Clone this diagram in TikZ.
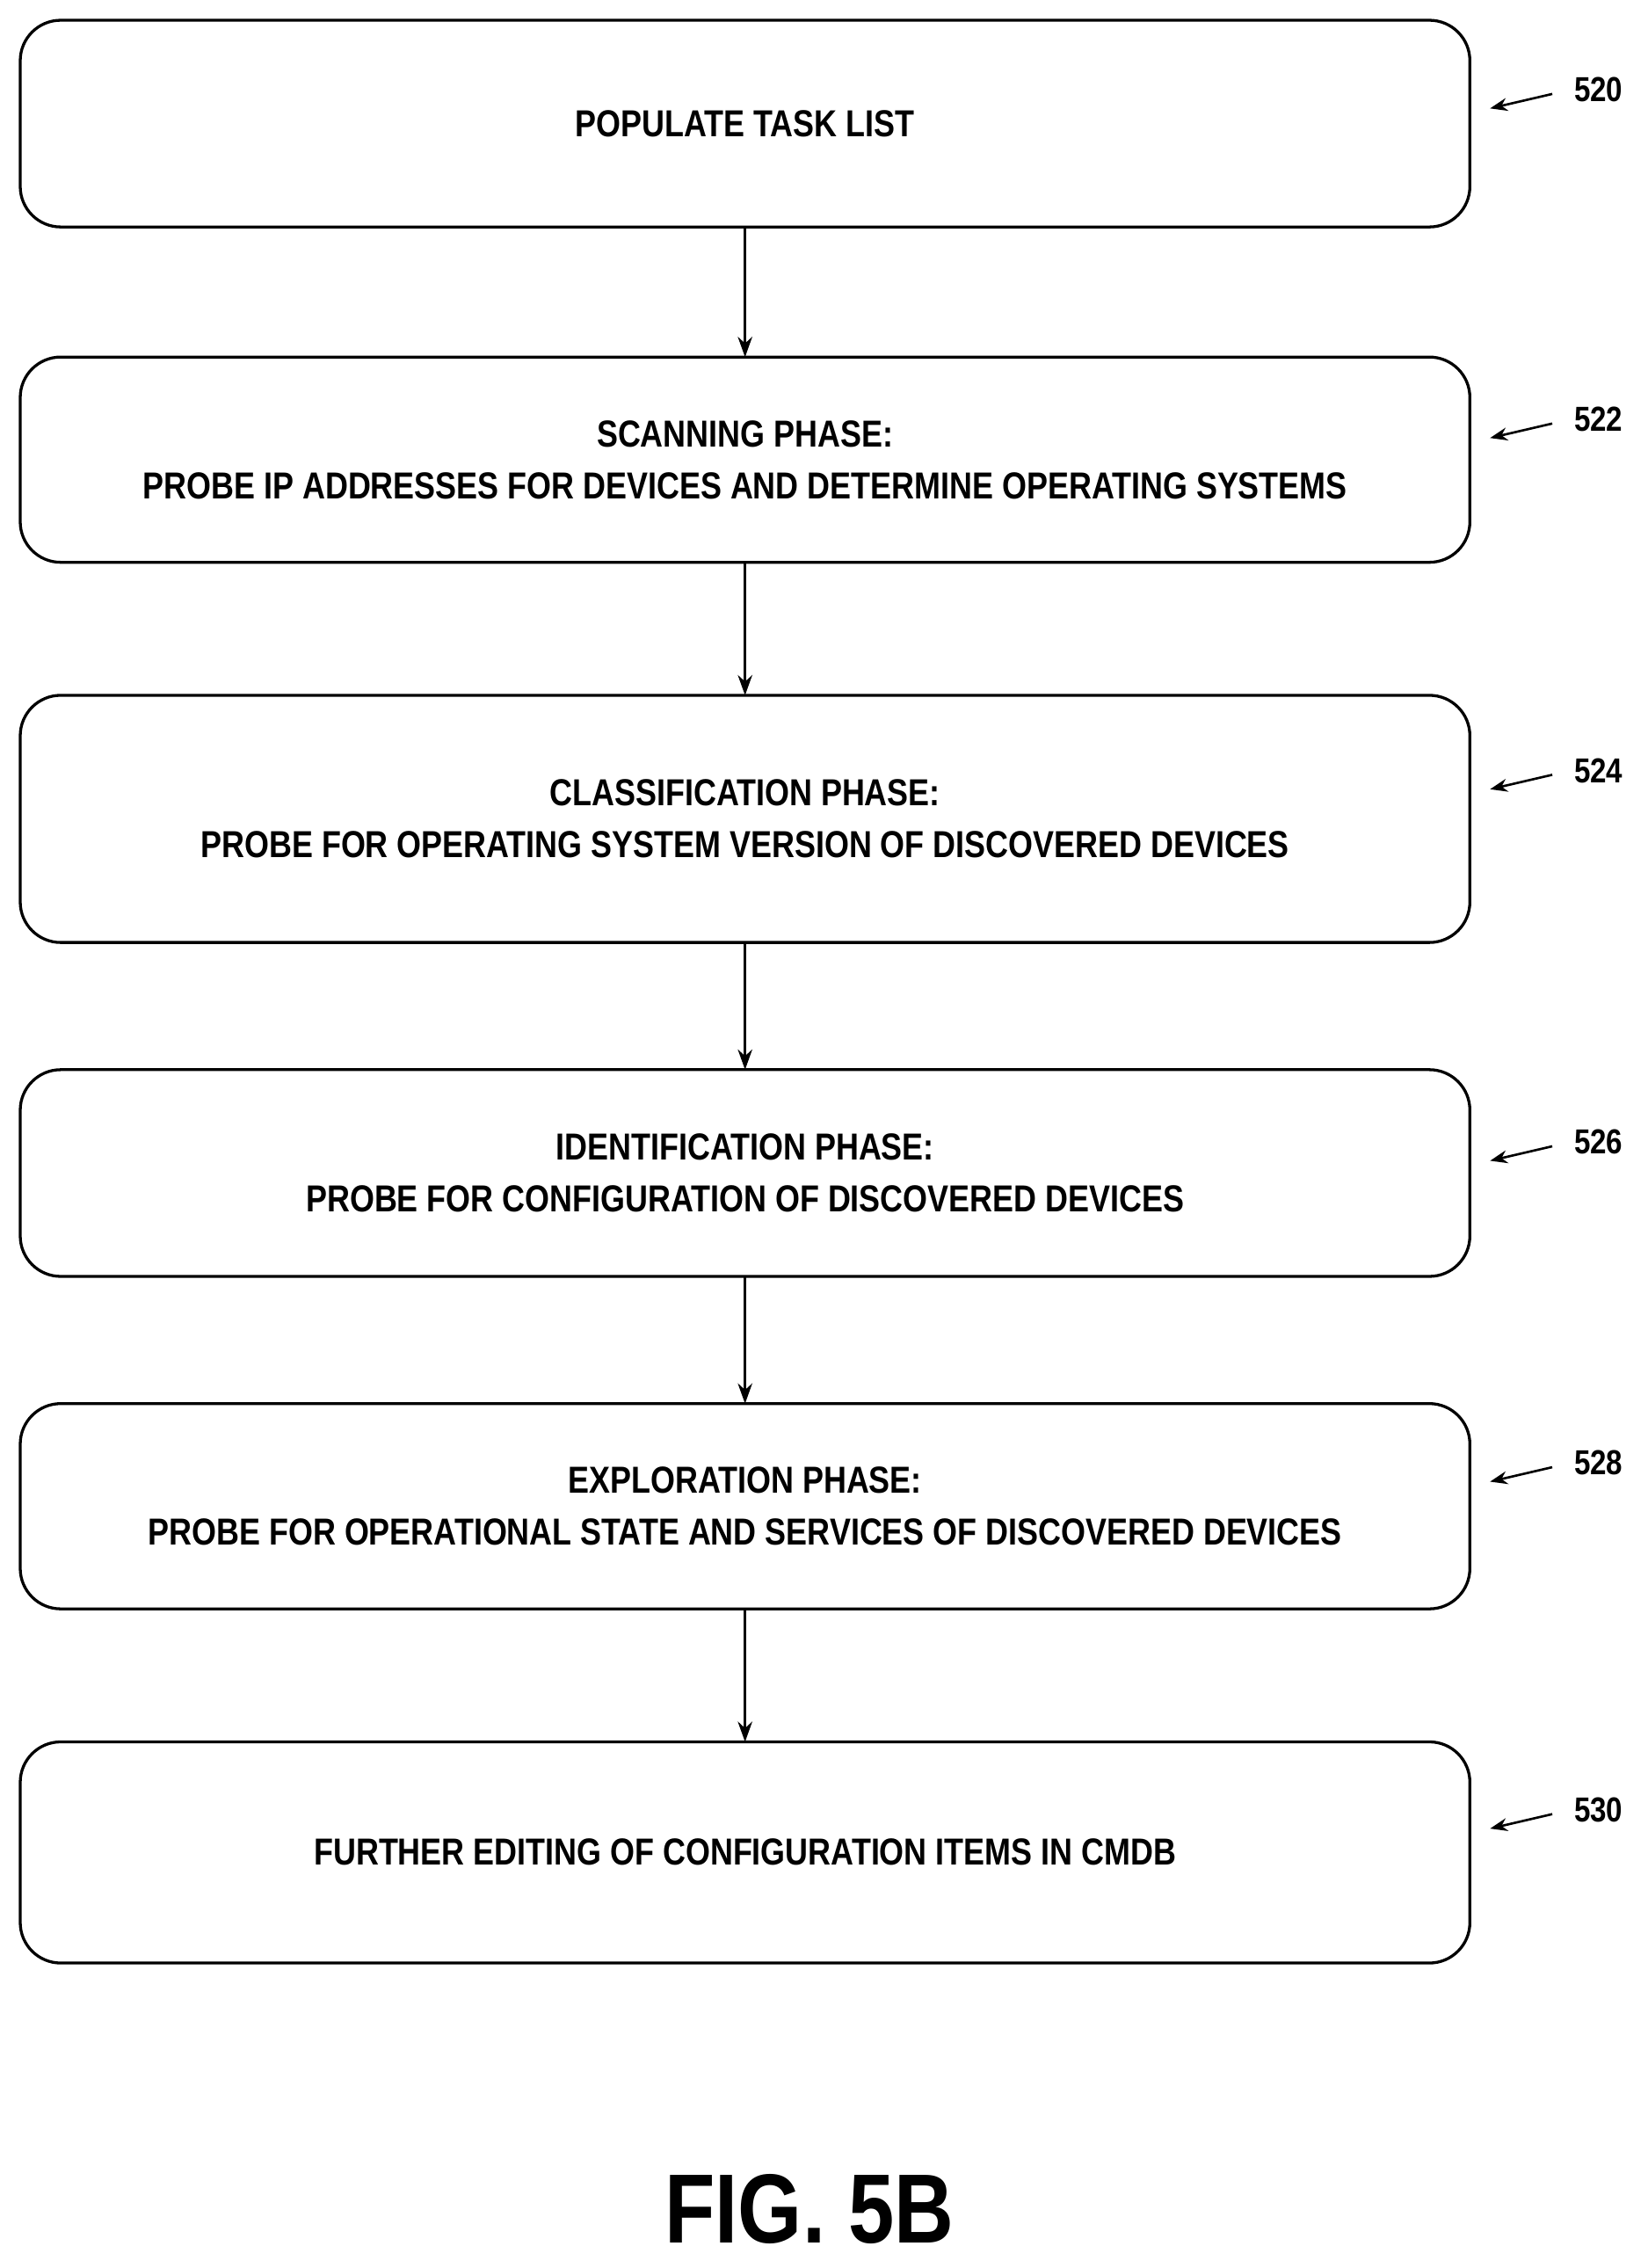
\documentclass[tikz,border=0pt]{standalone}
\usepackage{fontspec}
\setmainfont{Liberation Sans}[FakeStretch=0.84]
\usetikzlibrary{arrows.meta}
\begin{document}
\begin{tikzpicture}[x=1pt,y=-1pt,
  box/.style={draw,line width=2pt,rounded corners=28pt,font=\bfseries\fontsize{26}{36}\selectfont,align=center},
  conn/.style={line width=1.6pt,-{Stealth[length=14pt,width=10pt]}},
  lbl/.style={font=\bfseries\fontsize{24}{28}\selectfont},
  larr/.style={line width=1.6pt,-{Stealth[length=12pt,width=9pt]}}]
\useasboundingbox (0,0) rectangle (1140,1569);
\def\bx#1#2#3#4{\draw[box] (14,#2) rectangle (1017,#3); \node[box,draw=none] (#1) at (515.5,{(#2+#3)/2}) {#4};
  \coordinate (#1t) at (515.5,#2); \coordinate (#1b) at (515.5,#3);}
\bx{a}{14}{157}{POPULATE TASK LIST}
\bx{b}{247}{389}{SCANNING PHASE:\\PROBE IP ADDRESSES FOR DEVICES AND DETERMINE OPERATING SYSTEMS}
\bx{c}{481}{652}{CLASSIFICATION PHASE:\\PROBE FOR OPERATING SYSTEM VERSION OF DISCOVERED DEVICES}
\bx{d}{740}{883}{IDENTIFICATION PHASE:\\PROBE FOR CONFIGURATION OF DISCOVERED DEVICES}
\bx{e}{971}{1113}{EXPLORATION PHASE:\\PROBE FOR OPERATIONAL STATE AND SERVICES OF DISCOVERED DEVICES}
\bx{f}{1205}{1358}{FURTHER EDITING OF CONFIGURATION ITEMS IN CMDB}
\draw[conn] (ab) -- (bt);
\draw[conn] (bb) -- (ct);
\draw[conn] (cb) -- (dt);
\draw[conn] (db) -- (et);
\draw[conn] (eb) -- (ft);
\foreach \n/\y in {520/62,522/290,524/533,526/790,528/1012,530/1252}{
  \node[lbl] (L\n) at (1106,\y) {\n};
  \coordinate (S\n) at (1074,\y+3);
  \coordinate (T\n) at (1031,\y+13);
  \draw[larr] (S\n) -- (T\n);
}
\node[font=\bfseries\fontsize{68}{72}\selectfont] (fig) at (560,1528) {FIG. 5B};
\end{tikzpicture}
\end{document}
